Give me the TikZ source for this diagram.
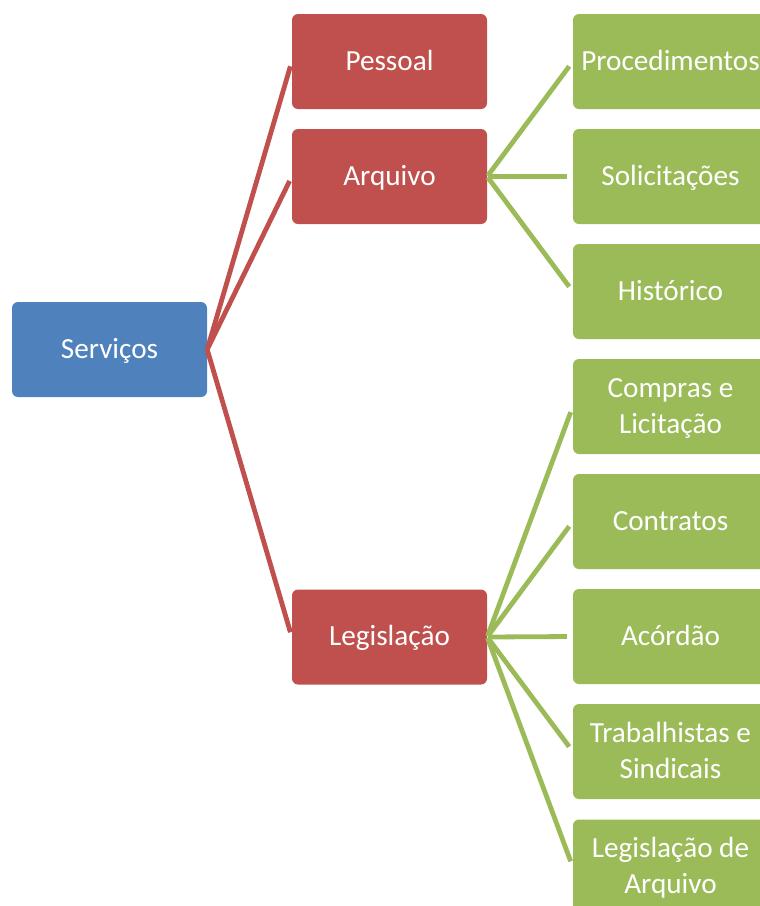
\documentclass[tikz,border=0pt]{standalone}
\usepackage{fontspec}
\setmainfont{Carlito}
\definecolor{cblue}{HTML}{4F81BD}
\definecolor{cred}{HTML}{C0504D}
\definecolor{cgreen}{HTML}{9BBB59}
\newcommand{\bxstrut}{\rule[-9pt]{0pt}{35pt}}
\begin{document}
\begin{tikzpicture}[x=1pt,y=-1pt,
  box/.style={minimum width=195pt,minimum height=95pt,rounded corners=6pt,inner sep=0pt,
    text=white,align=center,font=\fontsize{29.2}{36}\selectfont},
  bluebox/.style={box,fill=cblue},
  redbox/.style={box,fill=cred},
  greenbox/.style={box,fill=cgreen},
  redline/.style={draw=cred,line width=4.8pt,shorten >=5pt},
  greenline/.style={draw=cgreen,line width=4.8pt,shorten >=6pt,shorten <=1pt}]
\useasboundingbox (0,0) rectangle (760,906);
\clip (0,0) rectangle (760,906);
\node[bluebox] (serv) at (109.5,349.5) {\bxstrut Serviços};
\node[redbox] (pess) at (389.5,61.5) {\bxstrut Pessoal};
\node[redbox] (arq) at (389.5,176.5) {\bxstrut Arquivo};
\node[redbox] (leg) at (389.5,637) {\bxstrut Legislação};
\node[greenbox] (g1) at (670.5,61.5) {\bxstrut Procedimentos};
\node[greenbox] (g2) at (670.5,176.5) {\bxstrut Solicitações};
\node[greenbox] (g3) at (670.5,291.5) {\bxstrut Histórico};
\node[greenbox] (g4) at (670.5,406.5) {\bxstrut Compras e\\\bxstrut Licitação};
\node[greenbox] (g5) at (670.5,521.5) {\bxstrut Contratos};
\node[greenbox] (g6) at (670.5,636.5) {\bxstrut Acórdão};
\node[greenbox] (g7) at (670.5,751.5) {\bxstrut Trabalhistas e\\\bxstrut Sindicais};
\node[greenbox] (g8) at (670.5,867) {\bxstrut Legislação de\\\bxstrut Arquivo};
\foreach \t in {pess,arq,leg} \draw[redline] (serv.east) -- (\t.west);
\foreach \t in {g1,g2,g3} \draw[greenline] (arq.east) -- (\t.west);
\foreach \t in {g4,g5,g6,g7,g8} \draw[greenline] (leg.east) -- (\t.west);
\end{tikzpicture}
\end{document}
